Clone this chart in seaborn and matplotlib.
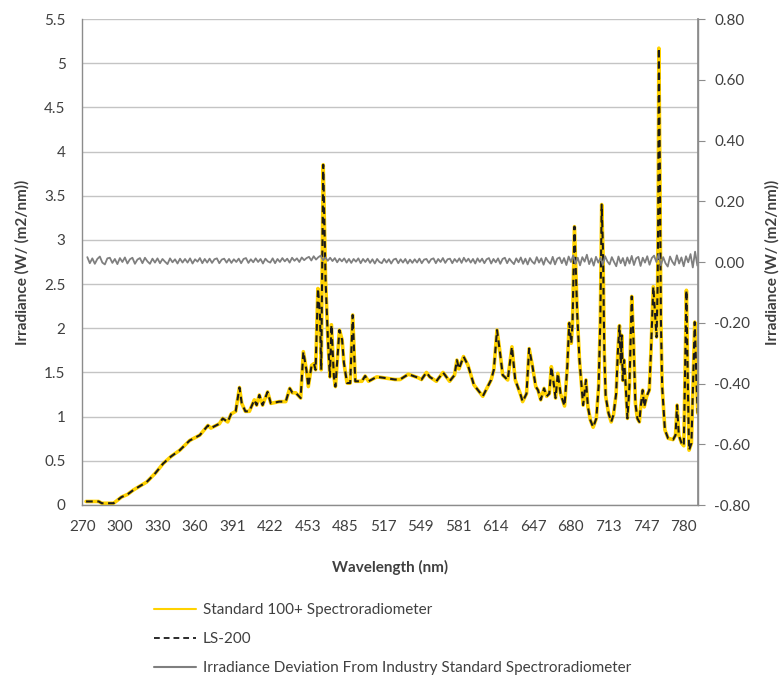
import numpy as np
import pandas as pd
import matplotlib
matplotlib.use("Agg")
import matplotlib.pyplot as plt
import seaborn as sns
from matplotlib.lines import Line2D

sns.set_theme(style="white")
plt.rcParams['font.family'] = ['Lato', 'DejaVu Sans']

# ---------------- data ----------------
tick_labels_wl = [270, 300, 330, 360, 391, 422, 453, 485, 517, 549, 581, 614, 647, 680, 713, 747, 780]

spec_wl = [
    273.0, 283.1, 285.5, 295.0, 301.3, 306.1, 310.8, 321.4, 328.3, 334.6,
    340.9, 347.8, 355.7, 363.9, 370.6, 373.0, 380.1, 382.8, 386.9, 389.7,
    393.5, 396.6, 398.5, 401.5, 404.8, 408.9, 410.8, 413.0, 415.7, 419.8,
    422.5, 429.4, 434.8, 438.1, 440.3, 443.0, 447.1, 449.3, 451.8, 453.4,
    456.2, 458.2, 459.6, 461.6, 463.3, 464.4, 466.1, 468.1, 470.1, 471.8,
    473.1, 475.2, 476.5, 479.9, 482.2, 483.7, 486.4, 489.1, 491.2, 493.4,
    499.0, 501.8, 504.7, 511.7, 517.4, 527.2, 531.5, 538.6, 547.0, 549.8,
    554.0, 556.8, 562.4, 568.1, 573.7, 577.9, 579.9, 581.7, 585.7, 589.5,
    594.8, 602.6, 609.9, 612.3, 615.1, 617.8, 620.1, 624.5, 628.2, 631.1,
    635.5, 637.6, 641.0, 643.3, 646.3, 649.1, 651.1, 653.5, 656.4, 658.7,
    661.0, 662.8, 664.5, 666.5, 668.5, 670.9, 674.4, 676.8, 678.5, 680.3,
    681.4, 683.1, 685.5, 687.5, 689.0, 690.7, 693.2, 694.9, 697.1, 699.5,
    702.3, 704.3, 705.8, 707.0, 708.2, 709.3, 710.5, 713.0, 715.4, 717.5,
    719.9, 721.4, 722.9, 724.1, 725.0, 725.9, 727.1, 728.6, 730.1, 731.9,
    734.0, 735.5, 737.3, 739.1, 740.9, 742.1, 743.9, 745.3, 747.5, 749.8,
    751.3, 753.3, 754.8, 756.2, 757.1, 757.6, 758.2, 759.1, 760.0, 761.1,
    763.5, 766.3, 770.7, 772.8, 774.2, 775.7, 778.1, 780.1, 781.8, 782.4,
    783.6, 784.7, 786.8, 788.2, 789.7, 791.2, 792.3,
]

standard_irr = [
    0.04, 0.04, 0.02, 0.02, 0.09, 0.12, 0.17, 0.26, 0.36, 0.47,
    0.55, 0.62, 0.73, 0.79, 0.90, 0.87, 0.92, 0.98, 0.94, 1.03,
    1.06, 1.33, 1.15, 1.06, 1.06, 1.19, 1.13, 1.245, 1.13, 1.28,
    1.15, 1.17, 1.17, 1.32, 1.27, 1.27, 1.21, 1.735, 1.53, 1.34,
    1.58, 1.60, 1.53, 2.45, 2.17, 1.53, 3.85, 2.55, 1.87, 1.45,
    2.04, 1.45, 1.34, 1.98, 1.87, 1.61, 1.38, 1.38, 2.15, 1.40,
    1.40, 1.46, 1.40, 1.45, 1.44, 1.42, 1.42, 1.48, 1.44, 1.42,
    1.50, 1.45, 1.40, 1.50, 1.40, 1.47, 1.64, 1.54, 1.68, 1.585,
    1.36, 1.23, 1.415, 1.53, 1.98, 1.72, 1.47, 1.415, 1.79, 1.415,
    1.26, 1.17, 1.26, 1.77, 1.565, 1.34, 1.30, 1.19, 1.32, 1.23,
    1.26, 1.565, 1.415, 1.21, 1.49, 1.26, 1.12, 1.565, 2.06, 1.83,
    2.06, 3.15, 2.17, 1.64, 1.40, 1.13, 1.415, 1.11, 0.96, 0.88,
    0.98, 1.34, 2.09, 3.40, 2.85, 1.72, 1.23, 1.04, 0.94, 1.02,
    1.26, 1.72, 2.03, 1.60, 1.92, 1.41, 1.64, 1.34, 0.98, 1.34,
    2.36, 1.90, 1.15, 0.98, 0.94, 1.11, 1.30, 1.11, 1.23, 1.30,
    1.75, 2.47, 2.17, 1.90, 2.47, 3.22, 5.17, 3.79, 2.09, 1.34,
    0.85, 0.755, 0.74, 0.79, 1.13, 0.79, 0.70, 0.67, 1.98, 2.43,
    1.41, 0.62, 0.70, 1.34, 2.07, 1.41, 1.04,
]

ls200_irr = list(standard_irr)

dev_wl = np.arange(274, 792.5, 2.0)
deviation = [
    0.016, -0.004, 0.012, -0.006, 0.010, 0.018, -0.002, -0.008, 0.012, 0.014, -0.003, 0.010, -0.007, 0.013, 0.000, 0.015, -0.005, 0.009, 0.014, -0.006,
    0.008, 0.013, -0.004, 0.014, 0.002, -0.006, 0.011, -0.002, 0.012, -0.004, 0.010, 0.001, -0.007, 0.012, -0.001, 0.009, -0.005, 0.011, -0.002, 0.010,
    -0.002, 0.012, -0.005, 0.009, 0.001, 0.013, -0.004, 0.010, -0.002, 0.011, -0.003, 0.009, 0.012, -0.004, 0.008, 0.011, -0.002, 0.010, -0.003, 0.009,
    0.000, 0.011, -0.004, 0.010, 0.013, -0.003, 0.009, -0.001, 0.012, 0.000, 0.010, -0.005, 0.011, 0.002, -0.002, 0.012, -0.004, 0.010, 0.000, 0.013,
    0.002, 0.011, -0.002, 0.014, 0.004, 0.012, 0.000, 0.015, 0.006, 0.013, 0.017, 0.005, 0.019, 0.008, 0.016, 0.021, 0.006, 0.015, 0.004, 0.014,
    0.003, 0.013, -0.001, 0.011, 0.002, 0.012, -0.002, 0.010, -0.003, 0.010, 0.001, 0.012, -0.004, 0.010, 0.000, 0.011, -0.003, 0.009, -0.005, 0.010,
    0.000, -0.004, 0.010, -0.002, 0.009, -0.005, 0.008, 0.011, -0.004, 0.009, -0.002, 0.010, -0.005, 0.008, -0.003, 0.009, -0.002, 0.011, -0.004, 0.008,
    0.010, -0.003, 0.009, 0.012, -0.004, 0.010, 0.000, 0.013, -0.003, 0.009, 0.011, -0.004, 0.010, 0.000, 0.012, -0.003, 0.014, 0.001, 0.011, -0.002,
    0.010, -0.005, 0.012, 0.000, 0.011, -0.004, 0.009, 0.013, -0.005, 0.010, -0.001, 0.012, -0.006, 0.010, 0.014, -0.004, 0.011, 0.001, -0.007, 0.012,
    -0.001, 0.015, -0.006, 0.011, -0.008, 0.013, 0.001, -0.006, 0.016, -0.002, 0.012, -0.009, 0.014, 0.002, -0.006, 0.017, -0.008, 0.011, 0.015, -0.004,
    0.013, -0.010, 0.018, 0.000, 0.022, -0.006, 0.014, -0.011, 0.016, 0.001, 0.024, -0.007, 0.012, -0.012, 0.017, -0.002, 0.014, -0.009, 0.019, 0.002,
    -0.008, 0.016, 0.000, -0.014, 0.018, -0.004, 0.013, -0.012, 0.015, -0.005, 0.020, -0.010, 0.012, 0.017, -0.013, 0.014, -0.002, 0.019, -0.009, 0.013,
    0.021, 0.000, 0.025, -0.011, 0.016, -0.004, -0.015, 0.018, 0.001, -0.010, 0.022, -0.005, 0.015, -0.014, 0.019, -0.001, 0.026, -0.018, 0.034, -0.012,
]

names = ["Standard 100+ Spectroradiometer", "LS-200",
         "Irradiance Deviation From Industry Standard Spectroradiometer"]

df_std = pd.DataFrame({"wl": spec_wl, "irr": standard_irr})
df_ls = pd.DataFrame({"wl": spec_wl, "irr": ls200_irr})
df_dev = pd.DataFrame({"wl": dev_wl, "dev": deviation})

# ---------------- figure ----------------
W, H = 784, 683
fig = plt.figure(figsize=(W / 100, H / 100), dpi=100)
L, R, T, B = 82.3, 697.7, 19, 505
ax = fig.add_axes([L / W, 1 - B / H, (R - L) / W, (B - T) / H])

# category-like x scale: tick labels evenly spaced
lab = np.array(tick_labels_wl, dtype=float)
anc_wl = np.concatenate([[lab[0] - 60], lab, [lab[-1] + 66]])
anc_pos = np.concatenate([[-2.0], np.arange(len(lab), dtype=float), [len(lab) + 1.0]])
fwd = lambda w: np.interp(w, anc_wl, anc_pos)
inv = lambda p: np.interp(p, anc_pos, anc_wl)
ax.set_xscale("function", functions=(fwd, inv))

text_col = "#404040"
spine_col = "#8C8C8C"
fs = 11

sns.lineplot(data=df_std, x="wl", y="irr", ax=ax, color="#FFD200", lw=2.6,
             estimator=None, sort=False, label=names[0])
sns.lineplot(data=df_ls, x="wl", y="irr", ax=ax, color="#1a1a1a", lw=1.5,
             estimator=None, sort=False, label=names[1], linestyle=(0, (3.2, 2.2)))

ax.set_xlim(273.0, 792.3)
ax.set_ylim(0, 5.5)
ax.set_yticks(np.arange(0, 5.51, 0.5))
ax.set_yticklabels(["0", "0.5", "1", "1.5", "2", "2.5", "3", "3.5", "4", "4.5", "5", "5.5"])
ax.set_xticks(tick_labels_wl)
ax.set_xticklabels([str(v) for v in tick_labels_wl])
# minor tick marks (category boundaries)
px_per_lab = 37.84
tick_px = [82.3 + 37.15 * i for i in range(1, 17)]
tick_pos = [(p - 78.5) / px_per_lab for p in tick_px]
ax.set_xticks([float(inv(p)) for p in tick_pos], minor=True)
ax.tick_params(axis="x", which="major", length=0, pad=10.5, labelsize=fs, labelcolor=text_col)
ax.tick_params(axis="x", which="minor", direction="in", length=4, width=0.8, color=spine_col)
ax.tick_params(axis="y", which="major", length=0, pad=12, labelsize=fs, labelcolor=text_col)
ax.grid(axis="y", color="#C4C4C4", lw=1.0)
ax.grid(axis="x", visible=False)
ax.set_axisbelow(True)
for s in ["left", "bottom", "right"]:
    ax.spines[s].set_color(spine_col)
    ax.spines[s].set_linewidth(1.0)
ax.spines["top"].set_visible(False)

ax.set_xlabel("Wavelength (nm)", fontsize=fs, fontweight="bold", color=text_col)
ax.xaxis.set_label_coords(0.5, (B - 567) / (B - T))
ax.xaxis.label.set_va("center")
ax.set_ylabel("Irradiance (W/ (m2/nm))", fontsize=fs, fontweight="bold", color=text_col)
ax.yaxis.set_label_coords((22 - L) / (R - L), 0.5)
ax.yaxis.label.set_va("center")

# secondary axis: deviation
ax2 = ax.twinx()
sns.lineplot(data=df_dev, x="wl", y="dev", ax=ax2, color="#7F7F7F", lw=1.3,
             estimator=None, sort=False, label=names[2])
ax2.set_ylim(-0.8, 0.8)
right_ticks = [-0.8, -0.6, -0.4, -0.2, 0.0, 0.2, 0.4, 0.6, 0.8]
ax2.set_yticks(right_ticks)
ax2.set_yticklabels([f"{v:.2f}" for v in right_ticks])
ax2.tick_params(axis="y", which="major", direction="out", length=5, width=0.8,
                color=spine_col, pad=7, labelsize=fs, labelcolor=text_col)
for s in ["left", "bottom", "top"]:
    ax2.spines[s].set_visible(False)
ax2.spines["right"].set_color(spine_col)
ax2.set_ylabel("Irradiance (W/ (m2/nm))", fontsize=fs, fontweight="bold", color=text_col)
ax2.yaxis.set_label_coords((772 - L) / (R - L), 0.5)
ax2.yaxis.label.set_va("center")
ax2.set_xlabel("")

for a in (ax, ax2):
    lg = a.get_legend()
    if lg is not None:
        lg.remove()

handles = [
    Line2D([], [], color="#FFD200", lw=1.5),
    Line2D([], [], color="#1a1a1a", lw=1.3, linestyle=(0, (3.2, 2.2))),
    Line2D([], [], color="#7F7F7F", lw=1.5),
]
fig.legend(handles, names, loc="upper left", bbox_to_anchor=(154 / W, 1 - 603 / H),
           frameon=False, fontsize=fs, handlelength=2.75, handletextpad=0.45,
           labelspacing=0.98, borderpad=0, borderaxespad=0, labelcolor=text_col)

fig.savefig("out.png", dpi=100)
